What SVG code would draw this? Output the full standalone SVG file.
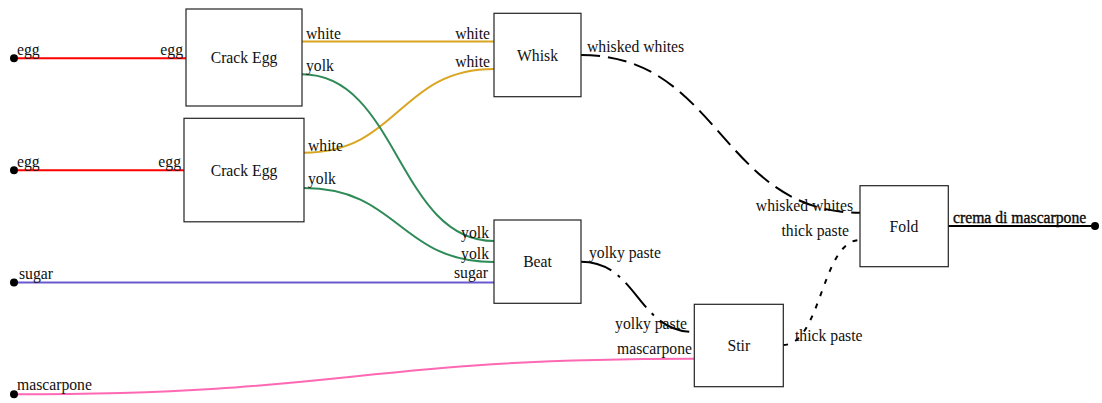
<svg xmlns="http://www.w3.org/2000/svg" width="1102" height="403" viewBox="0 0 1102 403">
  <style>
    text { font-family: "Liberation Serif", "Times New Roman", serif; font-size: 15.7px; fill: #111; }
    .node rect { fill: #fff; stroke: #222; stroke-width: 1.2; }
    .node .title { text-anchor: middle; }
    .in { text-anchor: end; }
    .wire { fill: none; stroke-width: 2; }
    .egg { stroke: #ff0000; }
    .white { stroke: #daa520; }
    .yolk { stroke: #2e8b57; }
    .sugar { stroke: #6a5acd; }
    .masc { stroke: #ff69b4; }
    .black { stroke: #000; }
    .whipped { stroke-dasharray: 19 8; }
    .paste { stroke-dasharray: 32 8 3 8; }
    .thick { stroke-dasharray: 5 8; }
    .term { fill: #000; }
  </style>

  <!-- connectors -->
  <g id="connectors">
    <path class="wire egg" d="M14 58.3 H186"/>
    <path class="wire egg" d="M14 170.3 H184"/>
    <path class="wire white" d="M302 41.5 H494"/>
    <path class="wire white" d="M304 152.7 C399 152.7 399 69 494 69"/>
    <path class="wire yolk" d="M302 74.3 C398 74.3 398 241 494 241"/>
    <path class="wire yolk" d="M304 188 C399 188 399 262 494 262"/>
    <path class="wire sugar" d="M14 282.5 H494"/>
    <path class="wire masc" d="M14 394.3 C354 394.3 354 358.7 694 358.7"/>
    <path class="wire black whipped" d="M581 55 C720.5 55 720.5 212.7 860 212.7"/>
    <path class="wire black paste" d="M581 261.7 C637.5 261.7 637.5 332 694 332"/>
    <path class="wire black thick" d="M783 345 C821.5 345 821.5 240 860 240"/>
    <path class="wire black" d="M948 226 H1095"/>
  </g>

  <!-- source and sink terminals -->
  <g id="src-egg-1">
    <circle class="term" cx="14" cy="58.3" r="4"/>
    <text x="17" y="55">egg</text>
  </g>
  <g id="src-egg-2">
    <circle class="term" cx="14" cy="170.3" r="4"/>
    <text x="17" y="167">egg</text>
  </g>
  <g id="src-sugar">
    <circle class="term" cx="14" cy="282.5" r="4"/>
    <text x="19" y="279">sugar</text>
  </g>
  <g id="src-mascarpone">
    <circle class="term" cx="14" cy="394.3" r="4"/>
    <text x="17" y="390">mascarpone</text>
  </g>
  <g id="sink-crema">
    <circle class="term" cx="1095" cy="226" r="4"/>
  </g>

  <!-- process nodes -->
  <g id="crack-egg-1" class="node">
    <rect x="186" y="9" width="116" height="97"/>
    <text class="title" x="244" y="63">Crack Egg</text>
    <text class="in" x="183" y="55">egg</text>
    <text x="306" y="39">white</text>
    <text x="306" y="71">yolk</text>
  </g>
  <g id="crack-egg-2" class="node">
    <rect x="184" y="118.3" width="120" height="103.5"/>
    <text class="title" x="244" y="175.5">Crack Egg</text>
    <text class="in" x="181" y="167">egg</text>
    <text x="308" y="151">white</text>
    <text x="308" y="184">yolk</text>
  </g>
  <g id="whisk" class="node">
    <rect x="494" y="13.3" width="87" height="83.4"/>
    <text class="title" x="537.5" y="60.5">Whisk</text>
    <text class="in" x="490" y="39">white</text>
    <text class="in" x="490" y="66.5">white</text>
    <text x="587" y="52">whisked whites</text>
  </g>
  <g id="beat" class="node">
    <rect x="494" y="220" width="87" height="83.3"/>
    <text class="title" x="537.5" y="267">Beat</text>
    <text class="in" x="489" y="238">yolk</text>
    <text class="in" x="489" y="259">yolk</text>
    <text class="in" x="488" y="278">sugar</text>
    <text x="589" y="258">yolky paste</text>
  </g>
  <g id="stir" class="node">
    <rect x="694.3" y="304.3" width="89" height="82.4"/>
    <text class="title" x="738.8" y="350.5">Stir</text>
    <text class="in" x="687" y="329">yolky paste</text>
    <text class="in" x="692" y="354">mascarpone</text>
    <text x="795" y="341">thick paste</text>
  </g>
  <g id="fold" class="node">
    <rect x="860" y="185.7" width="88.3" height="81"/>
    <text class="title" x="904" y="231.5">Fold</text>
    <text class="in" x="853" y="211">whisked whites</text>
    <text class="in" x="849" y="236">thick paste</text>
    <text x="953" y="223" style="stroke:#000;stroke-width:0.35">crema di mascarpone</text>
  </g>
</svg>
